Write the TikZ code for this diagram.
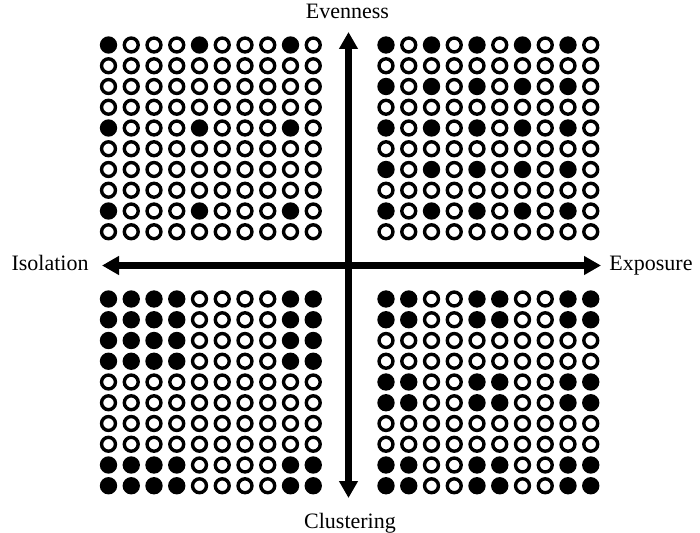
\documentclass[tikz,border=0pt]{standalone}
\usepackage{fontspec}
\setmainfont{Liberation Serif}
\usetikzlibrary{arrows.meta}
\tikzset{
  dotfull/.style={fill=black,draw=black,line width=3.4pt},
  dotopen/.style={draw=black,line width=3.4pt},
  axis/.style={line width=6.5pt,-{Triangle[length=17pt,width=18pt]}},
  axislabel/.style={font=\fontsize{22}{26}\selectfont,inner sep=0pt,anchor=base}
}
\newcommand\dotgrid[3]{%
  \foreach \r in {0,...,9}{%
    \foreach \c in {0,...,9}{%
      \pgfmathtruncatemacro\isfull{#3}%
      \ifnum\isfull=1
        \path[dotfull] ({#1+22.75*\c},{#2+20.75*\r}) circle[radius=6.95];
      \else
        \path[dotopen] ({#1+22.75*\c},{#2+20.75*\r}) circle[radius=6.95];
      \fi
    }%
  }%
}
\begin{document}
\begin{tikzpicture}[x=1pt,y=-1pt]
\useasboundingbox (0,0) rectangle (700,532);
% grids
\dotgrid{108.5}{45}{(mod(\r,4)==0)&&(mod(\c,4)==0)}
\dotgrid{386}{45}{(mod(\r,2)==0)&&(mod(\c,2)==0)}
\dotgrid{108.5}{299}{((\r<4)||(\r>7))&&((\c<4)||(\c>7))}
\dotgrid{386}{299}{(mod(\r,4)<2)&&(mod(\c,4)<2)}
% axes
\coordinate (ctr) at (348.5,265.5);
\coordinate (top) at (348.5,32);
\coordinate (bot) at (348.5,498);
\coordinate (lft) at (102,265.5);
\coordinate (rgt) at (601,265.5);
\draw[axis] (ctr) -- (top);
\draw[axis] (ctr) -- (bot);
\draw[axis] (ctr) -- (lft);
\draw[axis] (ctr) -- (rgt);
% labels
\node[axislabel] (even) at (347.5,19) {Evenness};
\node[axislabel] (clus) at (350,528) {Clustering};
\node[axislabel] (isol) at (50,270.7) {Isolation};
\node[axislabel] (expo) at (651,270.7) {Exposure};
\end{tikzpicture}
\end{document}
